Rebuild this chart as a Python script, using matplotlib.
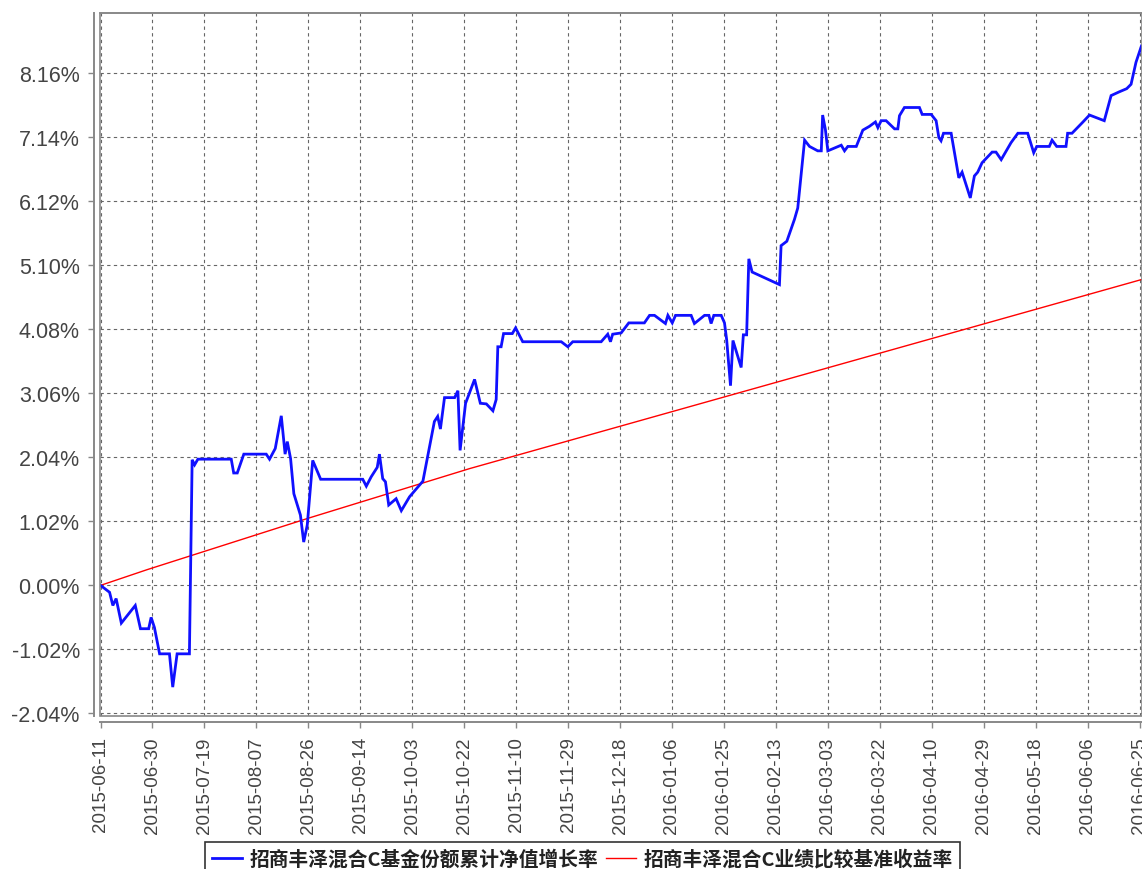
import matplotlib
matplotlib.use("Agg")
import matplotlib.pyplot as plt
from matplotlib.lines import Line2D
from matplotlib.patches import Rectangle
from matplotlib.font_manager import FontProperties
import pandas as pd

# ---------------- data ----------------
start_date = "2015-06-11"

fund_days = [
    0, 3.3, 4.5, 5.7, 7.6, 12.7, 14.6, 17.6, 18.5, 19.7, 21.6, 25.2, 26.4, 28.0,
    32.5, 33.5, 34.4, 35.6, 47.8, 48.7, 50.0, 52.4, 60.6, 61.8, 63.9, 66.1, 67.5,
    68.3, 69.5, 70.7, 73.1, 74.3, 75.6, 77.6, 80.5, 95.9, 97.2, 99.0, 101.2, 102.0,
    103.2, 104.2, 105.4, 108.1, 110.0, 113.0, 117.9, 122.1, 123.3, 124.3, 125.8,
    129.5, 130.7, 131.5, 133.5, 136.8, 138.9, 141.1, 143.5, 144.7, 145.3, 146.5,
    147.4, 150.6, 151.8, 154.4, 168.5, 170.9, 172.7, 183.1, 185.5, 186.5, 187.3,
    190.4, 193.2, 198.9, 200.8, 202.6, 206.6, 207.5, 209.1, 210.3, 216.0, 217.2,
    220.9, 222.5, 223.3, 224.3, 227.0, 228.2, 229.0, 230.4, 231.3, 234.3, 235.1,
    236.3, 237.1, 238.3, 248.3, 248.9, 251.0, 253.8, 255.0, 257.5, 259.3, 262.3,
    263.6, 264.1, 265.1, 266.0, 270.9, 272.1, 273.3, 276.4, 278.8, 281.2, 283.4,
    284.3, 285.5, 287.3, 290.4, 291.6, 292.2, 294.0, 299.5, 300.5, 303.8, 305.6,
    306.6, 307.4, 308.3, 311.1, 313.9, 315.1, 318.1, 319.6, 320.8, 322.4, 326.1,
    327.5, 329.4, 333.0, 335.5, 339.1, 341.3, 342.4, 347.0, 348.0, 349.7, 353.1,
    353.7, 355.3, 359.1, 361.7, 367.1, 369.6, 372.6, 375.3, 376.9, 378.7, 380.7,
]
fund_values = [
    0.00, -0.11, -0.32, -0.21, -0.60, -0.32, -0.69, -0.69, -0.51, -0.67, -1.09, -1.09, -1.62, -1.09,
    -1.09, 2.00, 1.92, 2.01, 2.01, 1.79, 1.79, 2.09, 2.09, 2.01, 2.18, 2.70, 2.09,
    2.29, 2.02, 1.46, 1.12, 0.69, 0.96, 1.99, 1.69, 1.69, 1.58, 1.73, 1.88, 2.09,
    1.70, 1.65, 1.28, 1.38, 1.19, 1.41, 1.66, 2.61, 2.69, 2.49, 2.99,
    2.99, 3.10, 2.15, 2.90, 3.28, 2.90, 2.89, 2.78, 2.96, 3.80, 3.80,
    4.01, 4.01, 4.10, 3.88, 3.88, 3.80, 3.88, 3.88, 4.00, 3.88, 4.00,
    4.02, 4.18, 4.18, 4.30, 4.30, 4.17, 4.30, 4.18, 4.30, 4.30, 4.17,
    4.30, 4.30, 4.17, 4.30, 4.30, 4.18, 3.91, 3.18, 3.90, 3.47, 3.99,
    3.99, 5.20, 4.99, 4.79, 5.41, 5.48, 5.83, 6.01, 7.09, 6.99, 6.92,
    6.92, 7.49, 7.26, 6.92, 7.01, 6.92, 6.99, 6.99, 7.25, 7.31, 7.38,
    7.29, 7.40, 7.40, 7.27, 7.27, 7.48, 7.61, 7.61, 7.50, 7.50, 7.40,
    7.13, 7.08, 7.20, 7.20, 6.49, 6.58, 6.17, 6.52, 6.58, 6.73, 6.90,
    6.90, 6.78, 7.05, 7.20, 7.20, 6.89, 6.99, 6.99, 7.09, 6.99, 6.99,
    7.20, 7.20, 7.37, 7.49, 7.40, 7.80, 7.86, 7.91, 7.98, 8.33, 8.59,
]

bench_days = [0, 17, 76, 135, 380.7]
bench_values = [0.00, 0.25, 1.07, 1.86, 4.87]

y_ticks = [-2.04, -1.02, 0.00, 1.02, 2.04, 3.06, 4.08, 5.10, 6.12, 7.14, 8.16]
x_tick_labels = [
    "2015-06-11", "2015-06-30", "2015-07-19", "2015-08-07", "2015-08-26",
    "2015-09-14", "2015-10-03", "2015-10-22", "2015-11-10", "2015-11-29",
    "2015-12-18", "2016-01-06", "2016-01-25", "2016-02-13", "2016-03-03",
    "2016-03-22", "2016-04-10", "2016-04-29", "2016-05-18", "2016-06-06",
    "2016-06-25",
]
legend_labels = ["招商丰泽混合C基金份额累计净值增长率", "招商丰泽混合C业绩比较基准收益率"]

# ---------------- figure ----------------
W, H = 1142, 870
fig = plt.figure(figsize=(W / 100, H / 100), dpi=100)
fig.patch.set_facecolor("white")

left_px, right_px, top_px, bottom_px = 100, 1142, 14, 717
ax = fig.add_axes([left_px / W, 1 - bottom_px / H, (right_px - left_px) / W, (bottom_px - top_px) / H])

# spines first (set_position resets ticks)
for s in ["left", "bottom"]:
    ax.spines[s].set_position(("outward", 4.5))
    ax.spines[s].set_color("#888888")
    ax.spines[s].set_linewidth(1.4)
ax.spines["right"].set_visible(False)
ax.spines["top"].set_color("#888888")
ax.spines["top"].set_linewidth(1.2)
ax.add_patch(Rectangle((0, 0), 1, 1, transform=ax.transAxes, fill=False,
                       edgecolor="#888888", lw=1.2, zorder=5, clip_on=False))

t0 = pd.Timestamp(start_date)
fund_x = [t0 + pd.Timedelta(days=d) for d in fund_days]
bench_x = [t0 + pd.Timedelta(days=d) for d in bench_days]

ax.plot(bench_x, bench_values, color="#ff0000", lw=1.0, zorder=3)
ax.plot(fund_x, fund_values, color="#1010ff", lw=2.0, zorder=4, solid_joinstyle="miter")

ax.set_xlim(t0 - pd.Timedelta(days=0.2), t0 + pd.Timedelta(days=380.9))
ax.set_ylim(-2.08, 9.115)

xt = [pd.Timestamp(s) for s in x_tick_labels]
ax.set_xticks(xt)
ax.set_xticklabels(x_tick_labels)
ax.set_yticks(y_ticks)
ax.set_yticklabels([f"{v:.2f}%" for v in y_ticks])

ax.tick_params(axis="both", length=4, width=1.0, color="#888888", pad=6, labelcolor="#444444")
ax.tick_params(axis="x", labelrotation=90, labelsize=13.5, labelfontfamily="Liberation Sans")
ax.tick_params(axis="y", labelsize=15.5, labelfontfamily="Liberation Sans")

ax.grid(True, color="#666666", lw=0.8, linestyle=(0, (3, 3)))
ax.set_axisbelow(True)

handles = [Line2D([], [], color="#1010ff", lw=2.0), Line2D([], [], color="#ff0000", lw=1.0)]
leg = fig.legend(handles, legend_labels, loc="upper center",
                 bbox_to_anchor=(582.5 / W, 1 - 843 / H), ncol=2,
                 prop=FontProperties(family=["Noto Sans CJK SC", "DejaVu Sans"], weight="bold", size=14.2),
                 frameon=True, fancybox=False, shadow=False, edgecolor="black",
                 handlelength=1.5, handletextpad=0.4, columnspacing=0.4, borderpad=0.35,
                 borderaxespad=0)
leg.get_frame().set_linewidth(1.2)
for t in leg.get_texts():
    t.set_color("#222222")

fig.savefig("out.png", dpi=100, facecolor="white")
